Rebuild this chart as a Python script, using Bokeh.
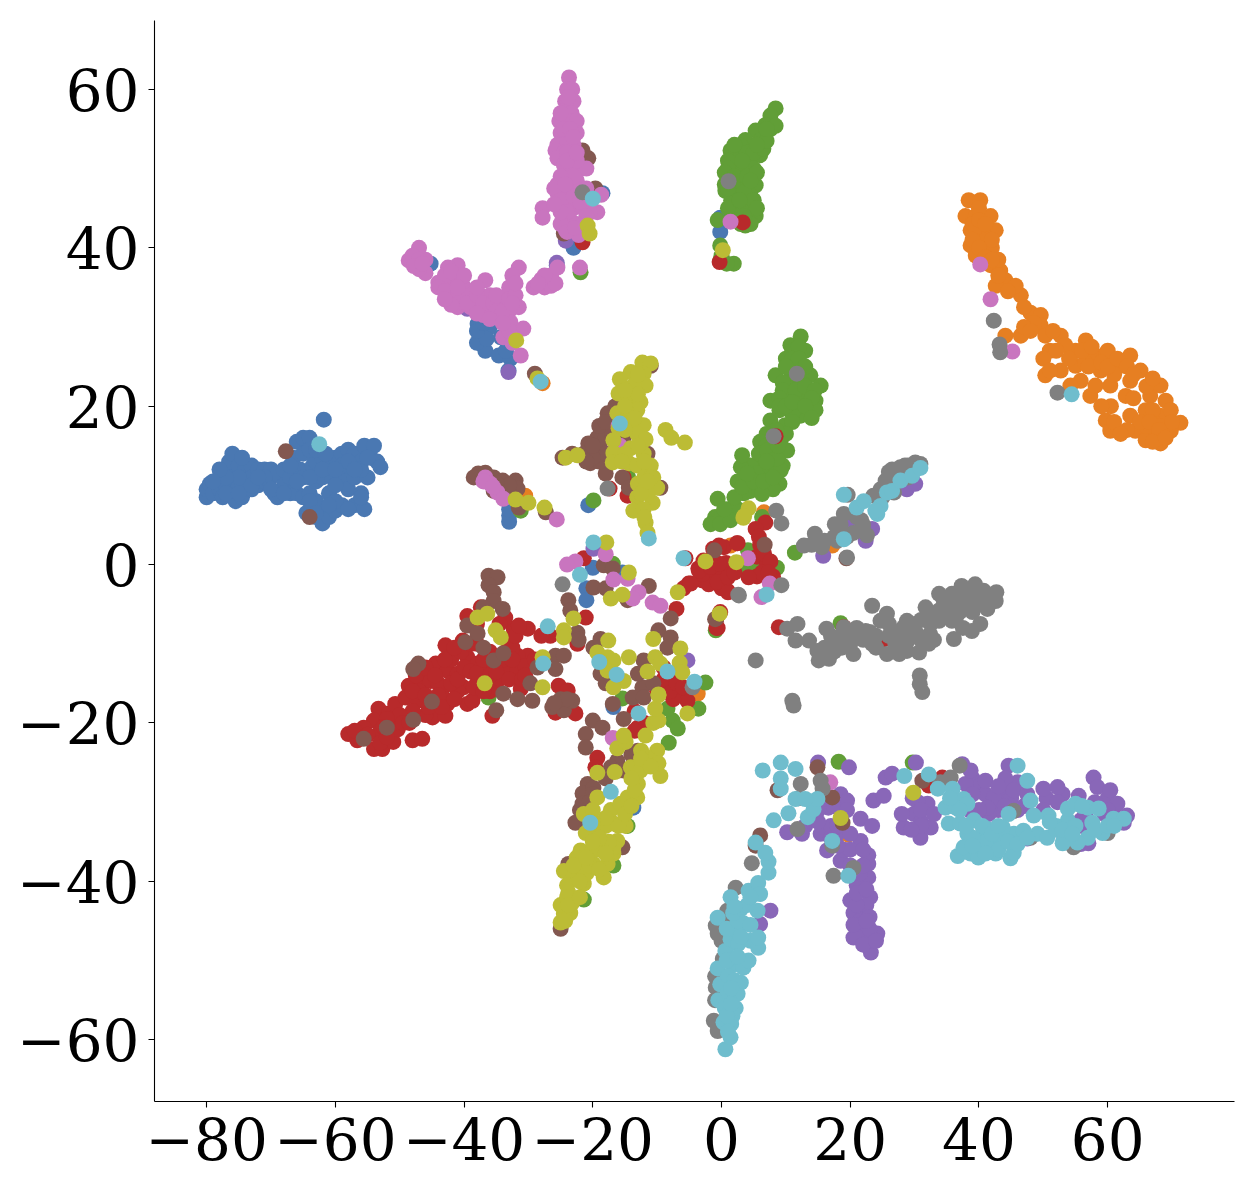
from bokeh.plotting import figure
from bokeh.embed import file_html
from bokeh.resources import INLINE
from bokeh.models import Range1d

x_ticks = [-80, -60, -40, -20, 0, 20, 40, 60]
y_ticks = [-60, -40, -20, 0, 20, 40, 60]

blue = [(-80,8.5),(-80,9.5),(-79.5,10.2),(-79,9),(-78.5,10.5),(-78,9.5),(-78,11),(-77.5,8.5),(-77,12),(-77,10),(-76.5,13),(-76,14),(-76,11),(-76,9),(-75.5,8),(-75,12.5),(-75,10),(-74.5,8.5),(-74,12),(-74,10.5),(-73,12.5),(-73,11),(-73,9.5),(-72,12),(-72,10),(-71,12),(-71,10.5),(-70,12),(-70,11),(-69.5,9),(-69,11.5),(-69,8.5),(-68,12),(-68,10),(-67,11),(-67,9),(-66.5,13.5),(-66,9),(-66,15.5),(-65.5,12),(-65,16),(-65,8.5),(-65,11),(-64.5,6.5),(-64,16),(-64,9),(-63.5,12.5),(-63,13),(-63,10.5),(-62,13.5),(-62,7),(-62,11),(-61.8,18.3),(-63,6),(-62,5.2),(-61,6),(-61,13),(-60.5,11),(-60,6.8),(-60,13.5),(-59,14),(-59,11),(-59,7.5),(-58.5,12.5),(-58,9.5),(-58,14.5),(-57,7.5),(-57,11),(-57,14),(-56,13),(-56,9),(-55.5,7),(-55.5,15),(-55,11),(-54.5,13.5),(-54,15),(-53.5,13),(-53,12.3),
(-77,9),(-75,11),(-75,9),(-73,10),(-71,11),(-70,9.5),(-72,11),(-64,11),(-63,8),(-62,12),(-61,9),(-60,10),(-59,12.5),(-58,13),(-60,8),(-56,12),(-55,13.5),(-57,12),(-68,9),(-67,12.5),(-66,10.5),(-65,14),(-64,14.5),(-63,14.5),(-61.5,14),(-60,12),(-77,11),(-78,12),(-74.5,13.5),(-79,10.5),(-64,8),(-63,6.5),(-61,7.5),(-56,8.5),(-58,7),
(-45.2,38),(-37.9,30.4),(-37,29.6),(-37.4,27.9),(-36.7,27),(-34.3,28.7),(-34.6,26.4),(-32.8,26),(-33.1,24.5),(-38,28),(-36,30),(-36.5,28.5),(-38,29.5),(-37,30.5),(-33.5,27),(-18.5,46.9),(-23,40),(-0.2,43.8),(-0.2,42),(-33,6.2),(-33,5.4),(-33,7),(-20.7,7.5),(-20,-0.4),(-21,-3),(-21,-4.5),(-15.4,-1),(-16.8,-18),(-13.7,-30.7),(-25.6,37.8)]

orange = [(38.4,46),(40.2,46),(37.9,44),(39.5,44),(41.8,44),(38.7,42.2),(41,42.2),(42.6,42.2),(38.7,40.3),(41,40.3),(40.2,38.4),(41.8,37.8),(43.3,37.1),(44.1,35.9),(42.6,35.2),(46.5,34),(45.7,35.2),(48,31.8),(49.6,31.5),(49.6,30.2),(52.7,28.9),(50.3,28.9),(46.5,28.9),(44.1,28.9),(56.6,28.3),(55,27),(53.4,27.7),(58.1,26.4),(55,25.1),(56.5,25.5),(59.7,26.4),(63.5,26.4),(62,25.1),(65.1,24.5),(50.3,23.9),(52.7,24.5),(55.8,23.2),(58.9,24.5),(54.2,22.6),(57.3,21.3),(60.4,22.6),(63.5,23.2),(68.2,22.6),(66.6,21.3),(69,20.7),(59.7,18.2),(60.4,16.9),(63.5,18.8),(65.9,19.5),(68.2,18.8),(71.3,17.9),(69.8,16.9),(66.6,16.9),(64.3,16.9),(68.2,15.3),(65.9,15.7),(62.8,21.3),(61.2,25.1),(58.1,22.6),(69.8,19.5),(40,45),(39,43),(40.5,41),(42,40),(39.5,39),(43,38.5),(60,27),(61,24),(67,18),(66,17.5),(68,17.5),(48.5,30.5),(51,27),
(39.5,42.5),(40,43.5),(41,43),(39,41),(42,41),(40,40),(41,38.8),(42,38.5),(43,36.5),(44.5,34.5),(47,32.5),(47,30),(48,29.5),(51.5,29.5),(52,27),(50,26),(51,24.5),(54,26),(56,27),(57.5,27.5),(57,25),(59,25.5),(60,25),(61.5,26),(63,25),(64,24),(66,22.5),(67,23.5),(64,21),(60.5,20),(59,20),(61,18),(65,18),(67,19.5),(66.5,18),(70,18),(68,17),(67,15.5),(69,16),(63,17),(62,16.5),
(-30.5,8.7),(6.6,6.6),(1.4,2.4),(17.2,2.4),(-27.8,22.9),(-3.7,-16.3),(19.7,-34.1)]

green = [(8.4,57.6),(7.6,56.7),(6.8,55.5),(7.6,55),(5.3,54.8),(6.1,53.6),(8.4,55.4),(3.7,53.6),(6,51.7),(3,52.9),(1.4,52.3),(2.2,50.4),(4.5,50.4),(1.4,49),(3.7,48.5),(0.6,47.2),(2.2,46.6),(5.3,47.9),(3,44.7),(5.3,44),(4.5,46.6),(3.7,42.8),(1.4,43.5),(-0.6,43.5),(2.5,51),(4,52),(5,50),(3,48),(1.5,46),(4,45.5),(2,45),(-0.2,40.3),(1.9,38),(-0.2,38.4),(0,39),(0.8,38),
(1,51),(2,53),(3,50),(1,50),(0.5,48),(0.5,49.5),(2,49),(4,49),(5.5,49.5),(5,52),(6.5,52.5),(7,53.5),(5.5,53),(7,55),(2,47.5),(3.5,47),(5,46),(5.5,45),(2,43.5),(3,43),(4.5,43),(1,45),(2.8,46),(4.5,48.5),(3.2,51),(1,47.5),(3.5,44),
(12.3,28.8),(10.7,27.7),(13,27),(10.7,24.5),(13.8,23.9),(15.4,22.6),(8.4,23.9),(10.7,21.3),(14.6,20.7),(12.3,18.8),(14.6,19.5),(7.6,18.2),(9.9,17.6),(12.3,20),(9.2,15.7),(7.6,20.7),(12,25),(12.5,23),(11.5,27),(13.5,22),(11,19),(13,21),(9,19.5),
(11,27),(12,27.5),(10,26),(11,26),(12,26),(13,25),(10,25),(11,23),(9.5,23),(12,23.8),(9.5,22),(11.5,22),(13,22.5),(14.5,22),(14,21),(9,21),(9,20),(10,20),(11,20.5),(13,20),(14,18.5),(11,18),(10,16.5),(8.5,17),(7,16.5),(6,15.5),(8,14.5),(7,15),(9,14),(6,12.5),(4.5,12.5),(8,12.8),(9.5,12.5),(6.5,11.8),(7.5,10),(4.5,9.3),(3.5,9),(2.5,10.5),(1,7),(0,6),(1,6),(-1,6),(2.5,7),(-0.5,5.5),
(-1.7,5.1),(-0.2,5.1),(1.4,5.6),(-0.6,8.3),(0.4,7),(2,8.5),(3.2,9.8),(3,12.3),(3.2,13.8),(5.8,14),(10.2,14.4),(9,10.2),(8,9.5),(6.3,8.9),(5.5,11.5),(7.6,12.3),(9.2,11.9),(5,10.5),(7.1,14.4),(8.6,13.4),(6.5,10.5),(8,11),(4,11.5),(7,13),(8.8,15),
(11.4,1.5),(4.1,1.8),(5.8,-0.4),(8.6,-0.4),(-0.9,-8.3),(4,-0.4),(6.3,6),(18.5,-7.4),(-36.2,-16.8),(-7.6,-19.7),(-6.8,-20.7),(-8.2,-22.5),(-8.4,-18.2),(-2.5,-14.9),(-3.6,-18.2),(-14.6,-33),(-16.8,-38),(-21.4,-42.3),(-15.4,-16.9),(-16.9,0.1),(-31.2,6.8),(-19.9,8.1),(-21.9,36.9),(-14.5,11),(18.2,-24.9),(29.7,-25)]

red = [(-58,-21.4),(-56.6,-22.2),(-54,-23.3),(-52.7,-23.3),(-51,-22.4),(-50.3,-20.8),(-53.3,-18.2),(-51.7,-18.8),(-54,-19.7),(-55.6,-20.6),(-48,-22.2),(-46.5,-22),(-50.7,-17.6),(-48.6,-15.3),(-49.1,-16.8),(-47.2,-17.2),(-44.9,-19.3),(-42.9,-19.1),(-42.6,-17.6),(-46.5,-14.9),(-44.4,-12.5),(-45.2,-14.7),(-42.9,-10.2),(-42.6,-13.4),(-43.2,-15.5),(-41,-13.8),(-39.5,-17.6),(-38.7,-17.2),(-40.1,-15.5),(-40.2,-9.6),(-39.5,-11.7),(-37.9,-12.5),(-36.4,-13.4),(-34.8,-14.7),(-33.9,-13),(-31.7,-13.4),(-30.1,-11.5),(-31.7,-11.5),(-30.5,-12.8),(-32.3,-8.1),(-30.1,-8.1),(-33.3,-9.6),(-33.6,-6.7),(-37.4,-5.4),(-31.2,-15.7),(-25.3,-15.3),(-23.9,-15.9),(-22.7,-18.8),(-25.8,-18.7),(-35.6,-19.1),(-26.6,-9),(-21.1,-6.7),(-22.4,-10),(-19.3,-24.4),(-19.6,-25.6),
(-47,-16),(-45,-17),(-44,-15),(-46,-19),(-41,-16),(-42,-12),(-38,-15),(-36,-16),(-34,-12),(-36,-11),(-38,-10),(-37,-14.5),(-53,-21),(-51,-20),(-48,-18.5),(-43,-17),(-32.5,-10.5),
(-57,-21),(-55,-21.5),(-53,-22.5),(-52,-21.8),(-50,-19),(-52,-19.5),(-49.5,-20),(-52.5,-20.5),(-48.5,-20),(-48,-16),(-46,-16.5),(-47.5,-14),(-46,-13),(-44.5,-14),(-44,-16.5),(-45.5,-18),(-43.5,-18),(-42,-15),(-41,-14.5),(-41.5,-17),(-40,-13),(-40.5,-11),(-39,-13.5),(-38,-13.7),(-38.5,-15.5),(-37,-16),(-36,-14),(-43,-12),(-41.5,-10.5),(-39,-10),(-37,-12),(-35,-13.5),(-33,-14.5),(-32.5,-12),(-31,-14.5),(-29,-12),(-30.5,-14),(-32,-9),(-31.5,-7.7),(-34.5,-7.5),(-38,-7.5),(-39.5,-6.5),
(-13,-20.6),(-13.5,-18.5),(-8.4,-15),(-6.8,-16.3),(-5.3,-17.2),(-9.5,-15.9),(-7.5,-13.8),(-7.5,-17),(-9,-13),(-7,-5.6),(-5.1,-2.4),(-5.9,-3),(-5.6,0.8),(-3.6,-0.5),(-1.7,-1.6),(-0.2,-2),(0.9,-3.3),(-2.8,0.5),(0.4,2.2),(2.5,2.7),(-0.6,-8),(-21.4,0.8),
(-3,-2),(-2,-2.5),(-1,-1),(0,-0.5),(1.5,-0.5),(0,-3),(-3,-1.2),(-2,0.5),(0.7,0.2),(-1.3,2),(5.5,1),(6,2.5),(7,-0.2),(5.5,-1.5),(8,-1.5),(-10,-16),(-8,-16),(-9,-14.5),(-7,-15),(-6,-15.5),(-12,-20),(-13.5,-21),
(8.9,-7.9),(6.8,5.3),(5.3,4.5),(5.8,3.5),(6.6,1.4),(7.6,0.4),(6.3,-1),(7.3,-1),(4.2,-1.6),(2.4,2.7),(-0.4,2.4),(-3.5,-0.8),(-1.7,-0.3),(-0.4,0.1),(-0.6,-2.2),(1,-3.5),(1,-1.6),(2,-1),(-4.8,-2.4),(-0.2,-6),(-0.8,-8),(-0.8,-6.8),
(-21.6,40.7),(3.3,43.2),(-0.3,38.2),(8.4,16.2),(-14.6,8.7),(-15.2,11),(-17.4,9.6),(-28,-9),(34.3,-26.9),(32.2,-27.9),(25,-9.5),(19,-7.9)]

purple = [(23.2,-49),(24.2,-46.6),(20.5,-47.1),(22,-46),(23,-47.5),(20,-42.4),(23.1,-42),(20.5,-44),(22,-44),(22.8,-39.5),(22.8,-37.8),(22.8,-36.7),(16.4,-36.1),(18.5,-37.4),(21.6,-34.9),(21.6,-32.1),(23.4,-33),(15.4,-34),(10.2,-33.8),(12.5,-34),(16.6,-30.7),(18.5,-29),(19.5,-29.8),(15,-25),(19.8,-25.6),(23.6,-29.8),(25.2,-29.2),(25.5,-26.9),(26.5,-26.4),(30.2,-25),(29.7,-29.5),(32,-30.2),(29.9,-31.5),(28.3,-33.2),(30.9,-34.5),(32.5,-33.2),(31,-32.5),(21,-40.5),(20,-38),(19,-36),(18,-34),(21.2,-45.5),(22.5,-43),
(21,-47),(22,-48),(23,-46),(21.5,-45),(23,-44.5),(20.5,-45.5),(24,-47.5),(22.5,-45),(21,-43),(21,-41.5),(22.5,-41),(21.5,-39),(22,-38),(20,-36),(18,-35.5),(20,-34),(22,-36),(17,-34.5),(15,-31),(17,-33),(13,-33),(15,-32.5),(17.5,-30.5),(18,-33),(19.5,-31),(30.5,-30),(31,-31),(31,-33),(29.5,-33.5),(28,-31.5),(33,-31.5),(38,-29.5),(39,-27),(40,-28),(41,-29),(43,-29),(44.5,-28.5),(46,-27.5),(45,-29.5),(47,-30.5),(43,-31),(41.5,-31.5),(38.5,-31),(60,-29.5),(58,-30),(59.5,-31.5),(56,-33),(56.5,-31.5),(61,-31.8),(50.5,-29.5),(53,-29),
(37.9,-27.7),(37.4,-25.2),(38.7,-26),(41,-27.3),(44.6,-25.4),(44.1,-27),(42.3,-29.4),(45.4,-28.5),(47.5,-29),(41.3,-30.7),(50,-28.3),(52.2,-28.1),(52.2,-30),(50,-31),(57.8,-26.9),(58.4,-28.1),(60.4,-28.5),(61.5,-30.2),(63,-31.7),(62.5,-32.6),(55.5,-29.2),(55.8,-32.3),(55.8,-35.3),(47.5,-34.6),(39,-29),(40,-31),(43,-28),(44,-30.5),(46,-31),(36,-30),(60,-31),(57,-35.2),
(7.6,-43.7),(6,-45.4),(15.8,1.1),(20.4,5.2),(22.4,3),(23.4,4.5),(28.8,9.5),(30.1,10.2),(-19.9,2),(-5.3,-12.1),(-25.6,38.1),(-33.1,24.3),(-24.2,40.9),(-39.5,32.3),(-34.6,31.2),(-33.3,29.9)]

brown = [(-36.2,-1.4),(-34.8,-1.6),(-36.2,-2.6),(-35.4,-3.5),(-35.4,-4.6),(-37,-5.4),(-34,-5.6),(-39.5,-7.7),(-37.9,-8.7),(-39.8,-9.8),(-37,-10.5),(-47.1,-12.5),(-47.9,-13.2),(-35.4,-12.1),(-33.9,-11.2),(-25.8,-11.5),(-24.5,-11.5),(-25.8,-13.2),(-28.6,-13),(-29.7,-15),(-33.9,-16.3),(-31.7,-17),(-29.4,-17.2),(-26.3,-18),(-24.5,-18.4),(-23.2,-17.2),(-25,-17),(-35,-18.4),(-45,-17.3),(-47.9,-19.6),(-52,-20.6),(-55.6,-22),
(-23.8,-4.5),(-23.5,-5.8),(-22.4,-8.6),(-22.2,-9.5),(-19.9,-10.5),(-18.8,-9.4),(-18.8,-13.8),(-18,-15),(-16.9,-17.6),(-12.3,-15.5),(-13.8,-16.8),(-12.1,-16.8),(-13,-13.8),(-12.1,-12.1),(-10.6,-15),(-9.8,-8.3),(-7.9,-6.8),(-7.9,-9.2),(-8.4,-10.5),(-15.2,-19.5),(-20,-19.7),(-18.5,-20.6),(-21.1,-21.4),(-21.1,-23.1),(-13,-23.5),(-16.2,-24.8),(-17.2,-25.6),(-15.2,-26),(-20.8,-27.7),(-21.6,-28.9),(-21.6,-30.2),(-19.9,-28.2),(-22.7,-32.6),(-21.4,-31.5),(-15.4,-35.7),(-23.8,-37.8),(-25,-46),(-19.9,-2.9),(-18.3,-0.1),(-16.9,-0.5),(-18,-3),(-14.6,-4.5),(-11.3,-2.7),(-1.1,1.8),(-0.8,-6.8),(-1,-6.9),(6.7,2.5),
(-20,-29),(-20.5,-30),(-18,-27),(-16,-26),(-14,-24),(-22,-31),(-24,-17),(-26,-17.5),
(-20.7,51.3),(-21.6,52.3),(-19.6,47.5),(-24.5,41.8),(-11,25.1),(-15.7,20.3),(-17.7,19.1),(-18.5,17.3),(-19.3,16),(-20.7,15.3),(-21.4,14),(-20.4,12.8),(-18,11.5),(-24.7,13.5),(-23.2,14),(-15.2,16),(-15.4,11),(-14.4,9.7),(-9.5,9.7),(-11.5,14),(-19.3,14.4),(-17,18),(-16,19.5),(-19,13),(-37.8,11.5),(-36.7,11.6),(-35.4,11),(-34,10.6),(-32,10.6),(-31.7,9.6),(-35.4,9.3),(-31.5,7.2),(-33,9),(-29,24.1),(-27.3,6.6),
(-19,15),(-18,14),(-20,14),(-18,16),(-17,16.5),(-19,17.5),(-18,18),(-16.5,20),(-20,13.5),(-21,13),(-20,15),(-36,10.5),(-34,9.8),(-33,10),(-35,10.3),(-38.5,11),
(6,-34.2),(5.3,-35.5),(8.7,-28.5),(14.9,-25.6),(17.2,-29.4),(18.8,-32.6),(31.2,-27.3),(-67.7,14.3),(-64,6),(19.4,0.8)]

pink = [(-23.7,61.5),(-24,60),(-23.2,60),(-24.3,58.5),(-23,58.5),(-24,57.5),(-23.3,57),(-25.2,56),(-23.5,56),(-22.5,56),(-25,54.5),(-24,54.5),(-22.5,54.5),(-25.5,53),(-24,53),(-23,53),(-25.8,52.3),(-24.5,52),(-23.5,51.5),(-25.5,51.3),(-23.8,50),(-22,50),(-24,49),(-21,50),(-22.5,48.5),(-25.5,46.9),(-25.5,48),(-24.5,47.5),(-23.5,48),(-24,46),(-22.5,47),(-21,47.5),(-24.5,45),(-23,45),(-21.5,45),(-19.3,44.5),(-20.5,44.5),(-18.7,46.7),(-27.8,45),(-27.8,43.8),(-24.2,42.2),(-22.2,41.6),(-23.5,43.5),(-22.5,43),(-22,37.5),(-29.2,35),(-27.5,35),(-28,36),(-26.5,35.2),(-26.5,36.5),(-25.5,37.5),(-25.8,35.5),
(-25,57),(-24.5,55),(-23.5,55),(-23,54),(-24,52),(-24.5,50.5),(-22.5,51),(-23,49),(-25,49),(-26,47.5),(-25,46),(-23,46.5),(-21,46),(-22,45.8),(-24,44.5),(-21,44),(-25,43),(-24,42),(-22.8,42.5),(-25,44.5),(-26,45.5),(-23.8,59),(-24,51),(-22.5,52),(-24.3,48),
(-47,40),(-48.6,38.4),(-46,36.8),(-47.5,38),(-48,39),(-46,38.5),(-47,37.3),(-44,35.6),(-41,37.8),(-42.5,37.5),(-41,32.5),(-43,36),(-42,35),(-41,36),(-42,33.5),(-40,35),(-39,34),(-39,32.5),(-40,33),(-36.7,35.9),(-37.5,34),(-36,34),(-36,32),(-31.5,37.5),(-32.5,36.5),(-31.5,32.5),(-33,35),(-34,33.5),(-34.8,31.7),(-33,32),(-37,31.5),(-38,32.5),(-32.8,30.6),(-30.8,29.8),(-31.2,26.4),(-33.9,28.7),(-32.5,28),(-33,29.5),
(-47,38.5),(-47.8,37.7),(-46.5,38),(-43,36.5),(-42,37),(-44,35),(-43,34.5),(-41,34),(-40,36.5),(-41,35),(-39.5,33),(-38,34),(-38,35),(-37,33),(-35.5,33),(-35,34),(-35,32),(-34,32),(-33,33.5),(-32,34),(-32,35.5),(-32.5,33),(-42,32.8),(-43,33.5),(-38,31.7),(-36,31),(-34,30.5),(-27.5,36.5),(-28.5,35.5),
(-36.7,11),(-35.9,10.2),(-34.8,9.1),(-33.9,8.3),(-37,10.5),(-35.5,9.8),(-25.6,5.7),(-22.7,0.4),(-18,1.3),(-16.8,-1.9),(-14.6,-1.8),(-12.9,-3.5),(-13.8,-4.3),(-10.7,-4.8),(-9.5,-5.2),(-16.9,-21.9),(-24,0),(4.1,0.8),(7.5,-2.4),(6.2,-4.1),(1.4,43.3),(40.2,37.9),(41.8,33.5),(45.2,26.9),(-16,17.5),(16.9,-27.5),(-15.8,15)]

grey = [(5.3,-12.1),(11.2,-17.8),(11,-17.2),(10.2,-8.1),(11.8,-7.5),(11.5,-9.6),(13.6,-9.6),(15.1,-12.1),(14.9,-10.9),(16.7,-11.9),(16.3,-8.1),(17.5,-10),(19,-7.9),(18.7,-10.5),(20.5,-11.3),(20.5,-9.2),(22.4,-8.4),(23.4,-5.2),(25.7,-6.2),(24.7,-7.1),(23.4,-10),(25.7,-11.3),(27.6,-11.3),(28.8,-10.9),(28.3,-7.9),(28.8,-7.1),(30.4,-8.8),(30.7,-11.1),(32.2,-10),(31.7,-5.4),(32.4,-8.8),(33.8,-7.1),(36.1,-9.4),(35.8,-7.1),(38.9,-8.4),(40.2,-7.5),(33.8,-3.7),(35.8,-3.7),(37.3,-2.7),(39.4,-2.5),(42.7,-3.5),(42.6,-4.6),(41.3,-5.6),(39.7,-4.6),(37.6,-4.6),(35.6,-5.4),(33.8,-5.8),(40.7,-3.3),(17,-9),(18.5,-9),(22,-9.5),(26,-9),(27,-8.5),(37,-6),(39,-6),(37.5,-8),(34,-6.5),(31,-7),(30.8,-14),(30.8,-15.1),(31.2,-16.1),
(38,-3.5),(36,-4.5),(41,-4),(38.5,-5.5),(40.5,-5),(36.5,-6.5),(34.5,-4.5),(35,-6),(33,-6.5),(32.5,-7.5),(30,-7.5),(29.5,-9),(28,-9.5),(27,-10),(24,-9),(23,-8.5),(21,-8),(20,-10),(19,-9.5),(17.5,-11),(16,-10.5),(24,-10.5),(31,-9.5),(29,-9.5),(33,-9.5),(26,-7.5),(37,-3.5),(38.5,-3.3),
(12.8,2.4),(14.5,3.9),(15.6,2.2),(17.5,3.5),(17.6,5.1),(19,6.4),(21.7,5.6),(19.5,0.9),(19.5,3.5),(22.6,3.7),(23.6,8.7),(19.6,8.8),(26,11.7),(25.5,10.6),(27.8,12.3),(30.1,12.9),(30.9,12.7),(26.8,9.1),(8.5,6.8),(9.3,5.2),(9.3,-2.6),(2.7,-3.9),(14,2.5),(18,3),(25,8.5),(29,12.5),
(26.5,11),(27,10.5),(28,11.5),(29,11),(24.7,9.5),(25,9),(22,5),(21,6),(16,3),(18.5,5),(20.5,4),(30,12),(28.5,12.5),(26.5,12),
(2.2,-40.8),(0.9,-43.7),(1.1,-44.6),(-0.9,-45.6),(-0.6,-46.6),(0.2,-49.8),(-0.9,-53.4),(-1.2,-57.6),(-0.6,-58.9),(-1,-52),(-1,-55),(0,-47.5),(4.7,-37.7),(17.4,-39.3),(20.5,-38.3),(11.8,-33.4),(12.3,-27.7),(15.4,-27.3),(15.7,-28.3),(12,-29.5),(17.2,-35.5),(37,-25.4),(35.6,-26.9),(34,-27.5),(45.4,-31.1),(54.7,-35.7),(60,-33.9),(48,-34.5),
(11.7,24.1),(8.1,16.2),(1.1,48.4),(-21.6,47),(-17.7,9.6),(42.3,30.8),(43.3,26.8),(43.2,27.8),(52.2,21.7),(-24.7,-2.5),(2.6,-3.8),(-4.5,-15.5)]

olive = [(-12.3,25.5),(-11,25.4),(-14.1,24.3),(-12.1,24.1),(-15.8,23.4),(-11.8,22.6),(-13.7,22.6),(-16,21.6),(-14.4,21.1),(-12.6,20.5),(-13.1,19.5),(-16.2,19.1),(-14.5,19),(-12.1,17.6),(-14.4,17.8),(-16,17.2),(-16.8,15.7),(-13.1,16.5),(-11.8,15.8),(-14.1,14.7),(-16.8,14.1),(-16.9,12.9),(-12.1,14),(-14.4,12.8),(-11,12.5),(-13.1,12.5),(-10.6,11),(-13,10.2),(-10,9.7),(-13.1,8.5),(-10.7,7.8),(-13.7,6.8),(-12.1,7),(-11.8,5.3),(-11.5,4),(-12,11),(-11.5,9),(-11,11),(-8.7,17),(-7.8,16),(-5.7,15.4),(-24.2,13.5),(-22.4,13.8),(-20.8,42.8),(-20.5,41.8),(-31.9,28.3),(0.2,39.7),(-32,8.2),(-30,7.8),(-27.5,7.2),(-28.6,23.5),
(-13,24),(-13,21.5),(-15,22),(-15,20),(-13.5,18.5),(-15,17),(-13,15),(-12.5,9),(-11.5,10.5),(-15,14),(-15.5,13),(-12,13),(-12,6),
(-25,-45.2),(-24.5,-44.1),(-25,-43),(-23.2,-42.7),(-23.8,-41.4),(-24.5,-38.7),(-23,-39.5),(-21.4,-40.3),(-21.9,-36.1),(-19.9,-37.8),(-18.3,-39.5),(-16.8,-36.5),(-17.7,-37.8),(-20,-36),(-16.2,-34.9),(-21.1,-33.9),(-19.3,-33.6),(-16.8,-32.7),(-14.9,-33),(-21.4,-31.5),(-19.3,-29.4),(-17.2,-31),(-15.7,-30.2),(-14.6,-29.4),(-13.1,-29.4),(-13,-27.7),(-19.3,-26.3),(-16.6,-26.2),(-14.1,-25.6),(-12.6,-26),(-11.3,-25.1),(-9.5,-26.7),(-10,-23.5),(-11.5,-24.4),(-9.8,-25.1),(-16.2,-23.2),(-14.9,-22.4),(-15.2,-21.6),(-11.8,-21.6),(-10.6,-20),(-9.8,-19.7),(-10.3,-18.2),(-9.8,-16.5),(-5.3,-18.8),(-22,-38),(-21,-39),(-24,-40.5),(-22.5,-37),(-18.5,-35),(-18,-33),(-16.8,-35.7),(-24.5,-43),(-23.5,-44),(-12.5,-23.5),
(-24,-42),(-24.3,-45),(-23.8,-43),(-22,-42),(-23,-38),(-22,-40),(-20.5,-38),(-19,-38.5),(-19,-36),(-21,-37),(-17.5,-35),(-18,-36.5),(-19,-34.5),(-20,-35),(-16,-33),(-18,-32),(-20,-32.5),(-20,-31),(-15,-31.5),(-14,-30.5),(-12.5,-24.5),(-11,-25.5),(-13.5,-28.5),(-14,-27),
(-27.8,-11.7),(-27.8,-15.5),(-36.8,-15),(-37.9,-6.7),(-36.4,-6.2),(-35.1,-8.3),(-34.3,-9.2),(-23,-6.8),(-24.5,-8.3),(-24.5,-9.2),(-17.6,-9.6),(-19.3,-11.1),(-17.7,-11.7),(-16.8,-12.1),(-17.7,-13.4),(-15.2,-14.7),(-16.8,-15.5),(-14.4,-11.7),(-11.5,-13.5),(-10.6,-9.4),(-10.3,-11.7),(-9.5,-12.5),(-6.4,-10.6),(-6.5,-12.4),(-6.1,-13.6),(-9.8,-16.4),(-14.4,-1),(-17.2,-4.3),(-15.4,-3.8),(-17.9,2.8),(-6.8,-3.5),(-2.5,0.4),(2.3,0.3),(-0.3,-6.2),(3.4,5.9),(4.2,7.1),(3.5,6.1),(18.5,-32),(29.8,-28.8)]

cyan = [(0.6,-61.2),(1.4,-59.7),(0.3,-57.8),(1.7,-57),(2.2,-56),(-0.5,-55),(2.5,-54.2),(-0.2,-53),(3,-52.8),(-0.6,-51),(1.7,-50.6),(3.4,-50.9),(4.2,-50),(0.6,-48.8),(1.4,-47.3),(2.6,-47.9),(4.5,-47.5),(5.7,-48.4),(5.7,-47.1),(3.4,-45.3),(-0.6,-44.6),(5.6,-43.7),(3,-43.5),(1.4,-42),(4.2,-41.2),(5.7,-40.2),(6,-41.6),(7.3,-38.9),(7.3,-37.5),(6.8,-36.4),(5.3,-35.1),(8.1,-32.3),(10.4,-31.4),(13.4,-31.9),(14.3,-30.9),(14.9,-29.6),(11.5,-29.6),(13,-29.6),(9.2,-28.3),(9.2,-27),(11.5,-25.8),(9.2,-25),(6.4,-26),(19.7,-39.3),(17.2,-34.9),(0.5,-55),(1,-54),(1,-52),(1.5,-58),(0.5,-56),(2,-52.5),(2,-46),(4,-43),
(1,-59),(0.8,-57),(1.5,-55.5),(1.5,-53.5),(0.8,-50),(2.5,-49.5),(0.8,-46),(2.5,-45),(4.5,-45.5),(3,-47),(1.8,-44),(4.5,-42),(2,-43.2),
(28.4,-26.7),(32.2,-26.5),(33.6,-28.3),(35.9,-28.3),(37.6,-29.6),(34.8,-30.7),(36.4,-30.7),(38.2,-30.2),(46,-25.4),(47.5,-27.3),(48,-29.8),(44.6,-31.5),(35.3,-32.7),(37.1,-32.7),(39.2,-32.3),(38.2,-34),(36.7,-36.8),(38.7,-36.5),(39.9,-37),(37.6,-35.7),(40,-34.5),(42.6,-36.5),(44.9,-37.1),(45.4,-36.4),(43.4,-34.9),(45.4,-34),(41.3,-33.4),(43.7,-33.2),(46.9,-33.6),(48.5,-31.7),(50.8,-31.7),(49.1,-34),(50.6,-34.5),(53.1,-34.9),(53.8,-32.3),(53.8,-30.8),(55,-30.2),(56.9,-30.7),(58.6,-30.8),(57.6,-32.6),(60.9,-32.1),(62.5,-32.1),(59.2,-33.9),(56.9,-34.5),(55.3,-35.1),(53,-35.2),(52,-33),(42,-35.5),(43,-36),
(40.5,-33),(41,-35),(42,-34),(43,-33),(44.5,-35),(41,-36.5),(39,-34.5),(38,-33),(46,-35.3),(47.5,-34.5),(52,-33.5),(51,-32.5),(53,-33.5),(55,-33),(54.5,-34),(58,-33.5),(60,-33),(61,-33),(56,-30.5),(37,-31),(35.5,-29.5),(39,-35.5),
(19,8.8),(19,3.2),(21,7.2),(22.1,8),(24.2,6.4),(24.7,7.4),(23.9,6.8),(25.7,9.1),(26.5,9.3),(27.8,10.6),(29.6,11.2),(30.9,12.2),(7,-3.8),(-19.9,2.8),(-22,-1.3),(-27,-7.8),(-27.7,-12.5),(-19,-12.3),(-16.3,-13.9),(-8.4,-13.5),(-4.2,-14.8),(-12.9,-18.8),(-17.2,-28.7),(-20.4,-32.6),(-11.3,3.3),(-5.9,0.8),(-20,46.2),(-15.8,17.8),(-62.5,15.2),(54.4,21.5),(-28.1,23.1)]

series = [(blue, "#4a78b2"), (orange, "#e67f22"), (green, "#619e37"), (red, "#b82a2b"), (purple, "#8967b8"),
          (brown, "#835850"), (pink, "#c975bf"), (grey, "#808080"), (olive, "#bcbc35"), (cyan, "#6fbdcd")]

p = figure(width=1240, height=1181, output_backend="svg", toolbar_location=None,
           x_range=Range1d(-88.1, 79.7), y_range=Range1d(-67.8, 68.7),
           min_border_left=154, min_border_right=6, min_border_top=20, min_border_bottom=80)
p.outline_line_color = None
p.grid.visible = False
p.background_fill_color = "white"
p.border_fill_color = "white"

for pts, col in series:
    p.scatter([a for a, b in pts], [b for a, b in pts], marker="circle", size=16,
              fill_color=col, line_color=None)

for ax, ticks in ((p.xaxis[0], x_ticks), (p.yaxis[0], y_ticks)):
    ax.ticker = ticks
    ax.major_label_overrides = {t: str(t).replace("-", "\u2212") for t in ticks}
    ax.major_label_text_font = "DejaVu Serif"
    ax.major_label_text_font_size = "58px"
    ax.major_label_text_color = "black"
    ax.axis_line_color = "black"
    ax.axis_line_width = 1.1
    ax.major_tick_line_color = "black"
    ax.major_tick_line_width = 1.1
    ax.major_tick_in = 0
    ax.major_tick_out = 6
    ax.minor_tick_line_color = None
    ax.major_label_standoff = 9

open("out.html", "w").write(file_html(p, INLINE))
